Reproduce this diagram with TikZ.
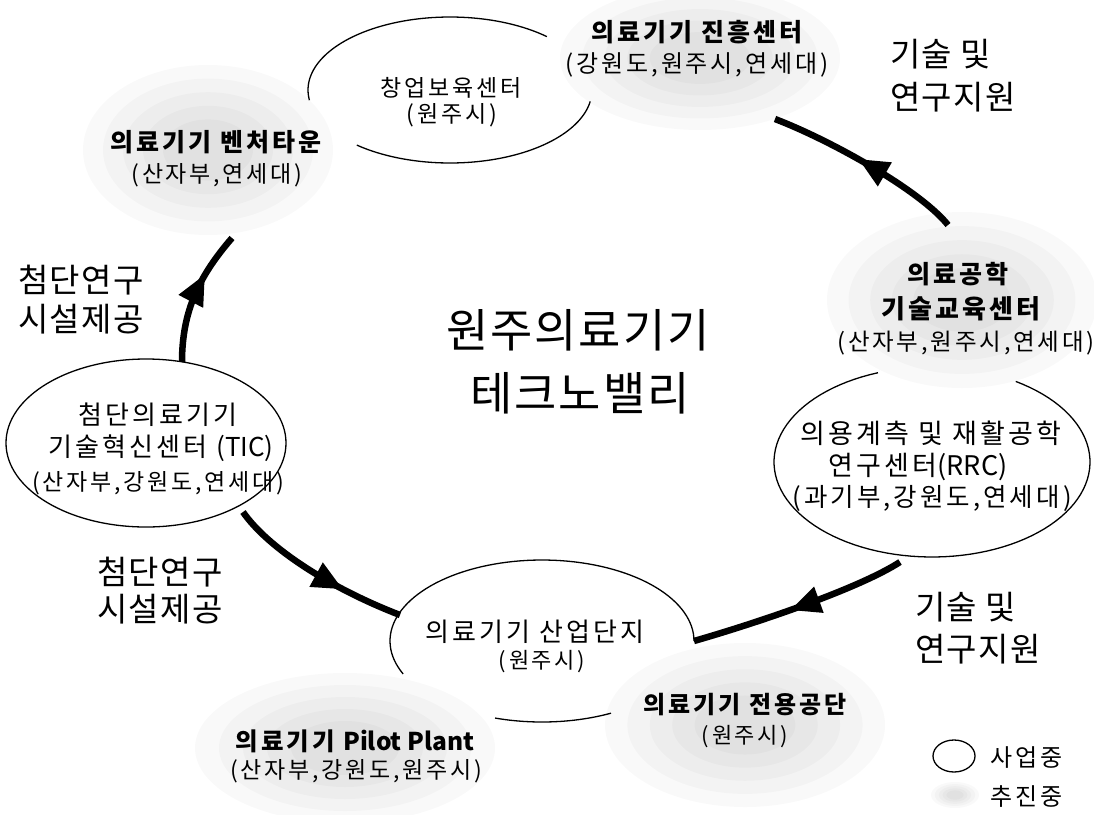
\documentclass[tikz,border=0pt]{standalone}
\usepackage{fontspec}
\newfontfamily\krw[LetterSpace=12]{Noto Sans CJK KR}
\newfontfamily\krn[LetterSpace=4]{Noto Sans CJK KR}
\newfontfamily\krl{Noto Sans CJK KR}
\usetikzlibrary{decorations.markings,shapes.geometric}
\newcommand{\krcloud}[4]{%
  \foreach \s in {1,0.84,0.68,0.52,0.36}{%
    \fill[black, fill opacity=0.022] (#1,#2) ellipse [x radius={\s*#3}, y radius={\s*#4}];}}
\begin{document}
\begin{tikzpicture}[x=1pt,y=-1pt,
  lbl/.style={inner sep=0pt, font=\krw\fontsize{#1}{#1}\selectfont},
  lblb/.style={inner sep=0pt, font=\krw\bfseries\fontsize{#1}{#1}\selectfont},
  side/.style={inner sep=0pt, font=\krn\fontsize{33}{36}\selectfont},
  ttl/.style={inner sep=0pt, font=\krn\fontsize{46}{50}\selectfont},
  ell/.style={line width=1.3pt},
  flow/.style={line width=6.5pt, postaction=decorate,
    decoration={markings, mark=at position #1 with {\fill (9pt,0pt) -- (-21pt,14pt) -- (-21pt,-14pt) -- cycle;}}}]
\useasboundingbox (0,0) rectangle (1094,814);
\fill[white] (0,0) rectangle (1094,814);

% speckled clouds (planned projects)
\krcloud{208}{150}{125}{85}
\krcloud{700}{58}{140}{72}
\krcloud{962}{300}{135}{88}
\krcloud{345}{748}{150}{75}
\krcloud{745}{725}{140}{82}
\krcloud{955}{795}{24}{13}

% ellipses (running projects)
\draw[ell] plot[domain=9:131, samples=60] ({450+142*cos(\x)},{90+73*sin(\x)});
\draw[ell] plot[domain=172:313, samples=60] ({450+142*cos(\x)},{90+73*sin(\x)});
\node[draw, ellipse, line width=1.3pt, minimum width=280pt, minimum height=168pt, inner sep=0pt] (ticell) at (146,443) {};
\draw[ell] plot[domain=-58:250, samples=100] ({932+158*cos(\x)},{462+95*sin(\x)});
\draw[ell] plot[domain=156:360, samples=80] ({542+152*cos(\x)},{641+81*sin(\x)});
\draw[ell] plot[domain=63:108, samples=30] ({542+152*cos(\x)},{641+81*sin(\x)});

% arrow end points
\coordinate (a1s) at (948,225);
\coordinate (a1e) at (775,119);
\coordinate (a2s) at (900,562);
\coordinate (a2e) at (694,641);
\coordinate (a3s) at (243,512);
\coordinate (a3e) at (400,615);
\coordinate (a4s) at (182,362);
\coordinate (a4e) at (232,238);

\draw[flow=0.5] (a1s) .. controls (920,190) and (830,140) .. (a1e);
\draw[flow=0.5] (a2s) .. controls (860,588) and (760,622) .. (a2e);
\draw[flow=0.62] (a3s) .. controls (268,548) and (330,588) .. (a3e);
\draw[flow=0.6] (a4s) .. controls (182,310) and (200,275) .. (a4e);

% labels
\node[lblb=25] (vt1) at (216,142) {의료기기 벤처타운};
\node[lbl=23] (vt2) at (217,175) {(산자부,연세대)};
\node[lblb=25] (jh1) at (697,32) {의료기기 진흥센터};
\node[lbl=24] (jh2) at (697,65) {(강원도,원주시,연세대)};
\node[lbl=23] (cb1) at (451,88) {창업보육센터};
\node[lbl=23] (cb2) at (452,115) {(원주시)};
\node[lbl=26] (tic1) at (158,415) {첨단의료기기};
\node[lbl=26] (tic2) at (161,448) {기술혁신센터 {\krl(TIC)}};
\node[lbl=23] (tic3) at (158,483) {(산자부,강원도,연세대)};
\node[lblb=25] (gy1) at (958,274) {의료공학};
\node[lblb=26] (gy2) at (961,309) {기술교육센터};
\node[lbl=23.5] (gy3) at (966,343) {(산자부,원주시,연세대)};
\node[lbl=27] (rrc1) at (931,433) {의용계측 및 재활공학};
\node[lbl=27] (rrc2) at (918,467) {연구센터{\krl(RRC)}};
\node[lbl=25.5] (rrc3) at (932,498) {(과기부,강원도,연세대)};
\node[lbl=26] (sd1) at (535,632) {의료기기 산업단지};
\node[lbl=22] (sd2) at (542,662) {(원주시)};
\node[lblb=24.5] (pp1) at (355,741) {의료기기 {\krl Pilot Plant}};
\node[lbl=23] (pp2) at (356,771) {(산자부,강원도,원주시)};
\node[lblb=24] (jy1) at (745,705) {의료기기 전용공단};
\node[lbl=22] (jy2) at (745,737) {(원주시)};

\node[ttl] (t1) at (578,330) {원주의료기기};
\node[ttl] (t2) at (580,393) {테크노밸리};

\node[side, anchor=west] (ra1) at (890,54) {기술 및};
\node[side, anchor=west] (ra2) at (890,97) {연구지원};
\node[side] (la1) at (81,280) {첨단연구};
\node[side] (la2) at (81,319) {시설제공};
\node[side] (lb1) at (160,572) {첨단연구};
\node[side] (lb2) at (160,609) {시설제공};
\node[side, anchor=west] (rb1) at (915,607) {기술 및};
\node[side, anchor=west] (rb2) at (915,649) {연구지원};

% legend
\node[draw, ellipse, line width=1.3pt, minimum width=42pt, minimum height=32pt, inner sep=0pt] (leg1) at (954,756) {};
\node[lbl=24, anchor=west] (leg1t) at (990,757) {사업중};
\node[lbl=24, anchor=west] (leg2t) at (990,797) {추진중};
\end{tikzpicture}
\end{document}
